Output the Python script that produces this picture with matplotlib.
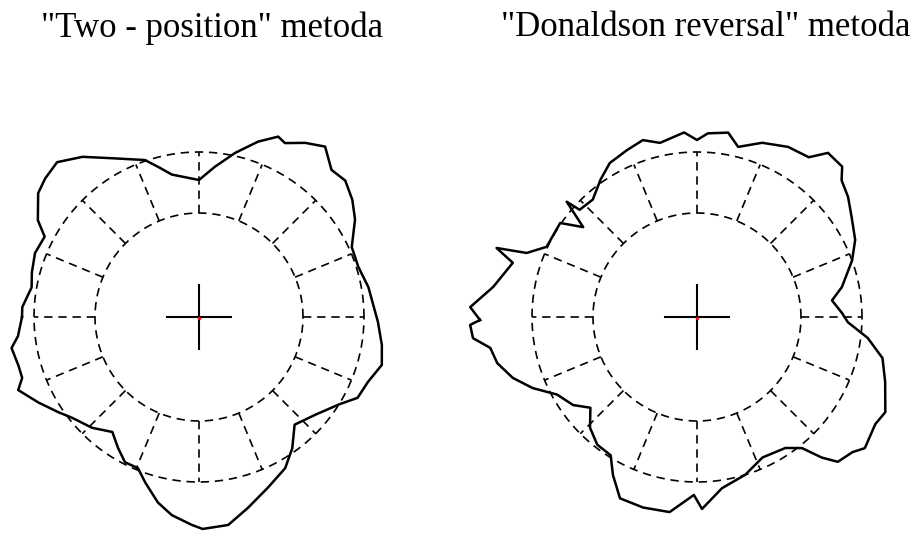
import numpy as np
import matplotlib
matplotlib.use("Agg")
import matplotlib.pyplot as plt

# titles
titles = ['"Two - position" metoda', '"Donaldson reversal" metoda']

# profile: angle in degrees (ccw from east), radius in px
ang_left = [-180, -174, -170.6, -165, -161, -158, -152, -146, -141.5, -134, -127,
            -121.7, -117, -112, -108, -102.5, -97.8, -92, -89, -82, -75.6, -68,
            -60.3, -54.6, -48.4, -40, -32, -27, -21, -14.7, -8.7, -1.6, 10, 17.5,
            24.6, 32, 37.4, 43, 48, 53.5, 58.6, 63.7, 66.3, 71.4, 77.6, 84, 90,
            100.8, 105, 109, 118.7, 126, 132.5, 138, 142.4, 149, 152.5, 158.7,
            165, 170, 176.8, 180]
rad_left = [177, 182, 190, 187, 187, 195, 182, 170, 162, 154, 144,
            154, 163, 163, 174, 190, 200, 208, 212, 210, 197, 184,
            174, 161, 144, 152, 165, 178, 181, 189, 185, 179, 172, 167,
            168, 184, 193, 200, 198, 212, 204, 194, 197, 185, 168, 151, 137,
            145, 155, 166, 181, 198, 210, 207, 203, 188, 174, 176,
            173, 170, 177, 177]

ang_right = [-179.2, -178, -174.6, -171.5, -167, -161.7, -156.6, -151, -144.6,
             -139.6, -134, -128, -122, -118, -113, -105.8, -98, -91, -88.5,
             -81.7, -73, -65, -56, -51.3, -48.4, -45.8, -41, -38, -31, -26.8,
             -19, -12.5, -7, -2, 1.6, 7, 11.7, 20, 26, 32.8, 38.5, 43.4, 46,
             51.4, 55, 61.8, 69.5, 76.4, 80.4, 86.6, 90, 94, 102, 107, 112.7,
             119.5, 125, 131.6, 137.6, 138.5, 141.7, 145.5, 155, 159.4, 161,
             163.6, 171.6, 177.5, 180.8]
rad_right = [217, 227, 225, 209, 205, 194, 179, 160, 152,
             140, 154, 162, 163, 179, 197, 198, 197, 178, 192,
             173, 165, 155, 158, 168, 188, 202, 206, 213, 208, 211,
             199, 190, 172, 151, 145, 136, 148, 165, 176, 184, 193, 199, 209,
             210, 195, 193, 186, 175, 187, 184, 177, 185, 178, 185, 181,
             177, 168, 157, 159, 174, 145, 166, 166, 182, 212,
             192, 206, 227, 217]

centers = [(199, 317), (697, 317)]
r_inner = 104
r_outer = 165


def draw_grid(ax, cx, cy):
    t = np.linspace(0, 2 * np.pi, 400)
    for r in (r_inner, r_outer):
        ax.plot(cx + r * np.cos(t), cy - r * np.sin(t), color='black',
                lw=1.2, linestyle=(0, (5, 3.5)))
    for a in np.deg2rad(np.arange(0, 360, 22.5)):
        ax.plot([cx + r_inner * np.cos(a), cx + r_outer * np.cos(a)],
                [cy - r_inner * np.sin(a), cy - r_outer * np.sin(a)],
                color='black', lw=1.2, linestyle=(0, (5, 3.5)))
    # centre cross
    ax.plot([cx - 32, cx + 32], [cy, cy], color='black', lw=1.5)
    ax.plot([cx, cx], [cy - 32, cy + 32], color='black', lw=1.5)
    ax.plot(cx, cy + 1, 'o', color='red', ms=2.5, mec='none')


def draw_profile(ax, cx, cy, ang, rad):
    a = np.deg2rad(np.array(ang))
    r = np.array(rad)
    x = cx + r * np.cos(a)
    y = cy - r * np.sin(a)
    ax.plot(np.append(x, x[0]), np.append(y, y[0]), color='black', lw=1.8)


fig = plt.figure(figsize=(9.14, 5.39), dpi=100)
ax = fig.add_axes([0, 0, 1, 1])
ax.set_xlim(0, 914)
ax.set_ylim(539, 0)
ax.axis('off')

for (cx, cy), ang, rad in zip(centers, [ang_left, ang_right], [rad_left, rad_right]):
    draw_grid(ax, cx, cy)
    draw_profile(ax, cx, cy, ang, rad)

ax.text(212, 28, titles[0], ha='center', va='center', fontsize=25,
        family='Liberation Serif')
ax.text(706, 28, titles[1], ha='center', va='center', fontsize=25,
        family='Liberation Serif')

fig.savefig('out.png', dpi=100)
